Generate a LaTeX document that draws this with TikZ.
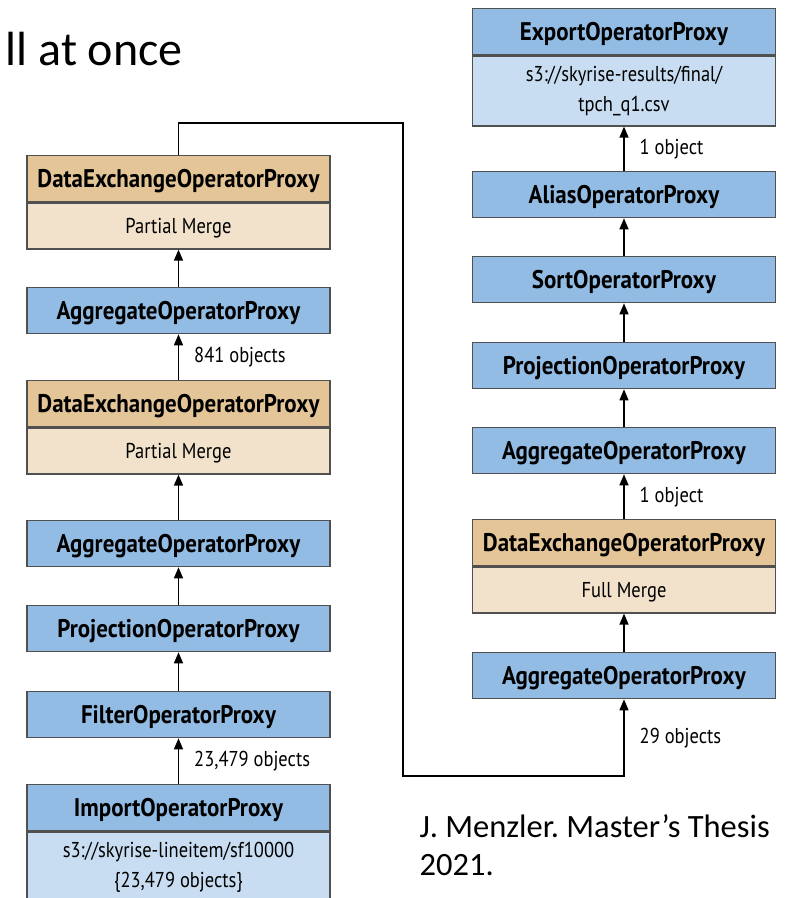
\documentclass[tikz,border=0pt]{standalone}
\usepackage{fontspec}
\setmainfont{Carlito}
\newfontfamily\condfont[FakeStretch=0.9]{PT Sans}
\newfontfamily\infofont[FakeStretch=0.86]{PT Sans}
\usetikzlibrary{arrows.meta}
\definecolor{opblue}{HTML}{92BCE3}
\definecolor{infoblue}{HTML}{C8DDF1}
\definecolor{optan}{HTML}{E4C597}
\definecolor{infotan}{HTML}{F2E2CB}
\definecolor{boxline}{HTML}{505050}
\tikzset{
  opbox/.style={draw=boxline,line width=1.3pt,minimum width=303pt,minimum height=46pt,
    inner sep=0pt,anchor=north,text height=17pt,text depth=0pt},
  blueop/.style={opbox,fill=opblue,font=\condfont\bfseries\fontsize{25.5}{28}\selectfont},
  tanop/.style={opbox,fill=optan,font=\condfont\bfseries\fontsize{25.5}{28}\selectfont},
  blueinfo/.style={opbox,fill=infoblue,font=\infofont\fontsize{21.5}{30}\selectfont},
  taninfo/.style={opbox,fill=infotan,font=\infofont\fontsize{21.5}{30}\selectfont,text height=14.5pt},
  twolines/.style={minimum height=70pt,align=center,text height=,text depth=},
  count/.style={anchor=west,xshift=15pt,inner sep=0pt,font=\infofont\fontsize{21.5}{24}\selectfont}
}
\begin{document}
\begin{tikzpicture}[x=1pt,y=-1pt,>={Triangle[length=11pt,width=9pt]},line width=1.4pt]
  \useasboundingbox (0,0) rectangle (785,898);
  \node[anchor=base west,inner sep=0pt,font=\fontsize{48}{56}\selectfont] (title) at (5,65) {ll at once};
  % left column: import ... partial merge
  \node[tanop] (dxA) at (178.5,155) {DataExchangeOperatorProxy};
  \node[taninfo] (dxAinfo) at (dxA.south) {Partial Merge};
  \node[blueop] (aggA) at (178.5,287) {AggregateOperatorProxy};
  \node[tanop] (dxB) at (178.5,380) {DataExchangeOperatorProxy};
  \node[taninfo] (dxBinfo) at (dxB.south) {Partial Merge};
  \node[blueop] (aggB) at (178.5,520) {AggregateOperatorProxy};
  \node[blueop] (projL) at (178.5,605) {ProjectionOperatorProxy};
  \node[blueop] (filter) at (178.5,691) {FilterOperatorProxy};
  \node[blueop] (import) at (178.5,784) {ImportOperatorProxy};
  \node[blueinfo,twolines] (importinfo) at (import.south)
       {s3://skyrise-lineitem/sf10000\\\{23,479 objects\}};
  % right column: full merge ... export
  \node[blueop] (export) at (624,8) {ExportOperatorProxy};
  \node[blueinfo,twolines] (exportinfo) at (export.south)
       {s3://skyrise-results/final/\\tpch\_q1.csv};
  \node[blueop] (alias) at (624,171) {AliasOperatorProxy};
  \node[blueop] (sort) at (624,256) {SortOperatorProxy};
  \node[blueop] (projR) at (624,342) {ProjectionOperatorProxy};
  \node[blueop] (aggC) at (624,427) {AggregateOperatorProxy};
  \node[tanop] (dxC) at (624,519) {DataExchangeOperatorProxy};
  \node[taninfo] (dxCinfo) at (dxC.south) {Full Merge};
  \node[blueop] (aggD) at (624,652) {AggregateOperatorProxy};
  \node[anchor=base west,align=left,inner sep=0pt,font=\frenchspacing\fontsize{32.5}{38}\selectfont] (cite)
       at (419,875) {J. Menzler. Master’s Thesis\\2021.};
  % data flow
  \draw[->] (import.north) -- node[count] {23,479 objects} (filter.south);
  \draw[->] (filter.north) -- (projL.south);
  \draw[->] (projL.north) -- (aggB.south);
  \draw[->] (aggB.north) -- (dxBinfo.south);
  \draw[->] (dxB.north) -- node[count] {841 objects} (aggA.south);
  \draw[->] (aggA.north) -- (dxAinfo.south);
  \coordinate (hop1) at (403,123);
  \coordinate (hop2) at (403,776);
  \draw[->] (dxA.north) |- (hop1) -- (hop2) -| node[count,pos=0.75] {29 objects} (aggD.south);
  \draw[->] (aggD.north) -- (dxCinfo.south);
  \draw[->] (dxC.north) -- node[count] {1 object} (aggC.south);
  \draw[->] (aggC.north) -- (projR.south);
  \draw[->] (projR.north) -- (sort.south);
  \draw[->] (sort.north) -- (alias.south);
  \draw[->] (alias.north) -- node[count] {1 object} (exportinfo.south);
\end{tikzpicture}
\end{document}
